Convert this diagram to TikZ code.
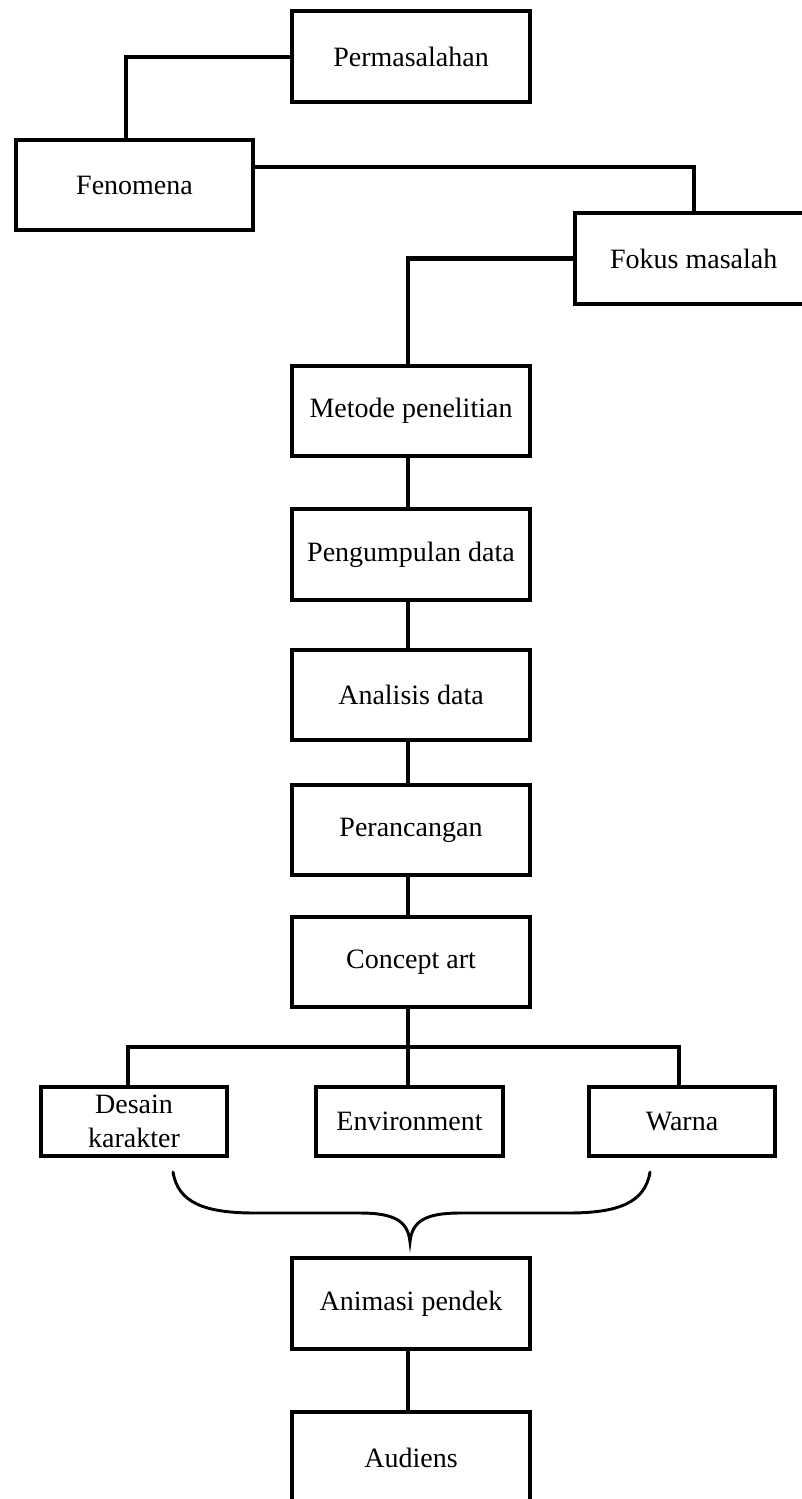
\documentclass[tikz,border=0pt]{standalone}
\usepackage{fontspec}
\setmainfont{Liberation Serif}
\begin{document}
\begin{tikzpicture}[x=0.75pt,y=-0.75pt,
  box/.style={draw, line width=3pt, minimum width=178pt, minimum height=68pt, inner sep=0pt, align=center, font=\fontsize{21}{25}\selectfont},
  sbox/.style={box, minimum width=140pt, minimum height=52pt},
  link/.style={line width=3.3pt},
  bracepath/.style={line width=2.2pt, line cap=round}]
\clip (0,0) rectangle (802,1499);
\fill[white] (0,0) rectangle (802,1499);
% nodes
\node[box] (perm)    at (411,56.7)   {Permasalahan};
\node[box] (fen)     at (134.5,185)  {Fenomena};
\node[box] (fokus)   at (693.75,258.5) {Fokus masalah};
\node[box] (metode)  at (411,411)    {Metode penelitian};
\node[box] (peng)    at (411,554.5)  {Pengumpulan data};
\node[box] (anal)    at (411,695)    {Analisis data};
\node[box] (peran)   at (411,830)    {Perancangan};
\node[box] (concept) at (411,962)    {Concept art};
\node[sbox] (desain) at (134,1121.5) {Desain\\karakter};
\node[sbox] (env)    at (409.5,1121.5) {Environment};
\node[sbox] (warna)  at (682,1121.5) {Warna};
\node[box] (animasi) at (411,1303.5) {Animasi pendek};
\node[box] (audiens) at (411,1457.5) {Audiens};
% helper coordinates
\coordinate (trunk) at (408,0);
\coordinate (c1) at (126,0);
\coordinate (c2) at (0,167);
\coordinate (bar) at (408,1047);
\coordinate (dl) at (128,0);
\coordinate (dr) at (679,0);
% connectors
\draw[link] (perm.west) -| (fen.north -| c1);
\draw[link] (fen.east |- c2) -| (fokus.north);
\draw[link] (fokus.west) -| (metode.north -| trunk);
\draw[link] (metode.south -| trunk) -- (peng.north -| trunk);
\draw[link] (peng.south -| trunk) -- (anal.north -| trunk);
\draw[link] (anal.south -| trunk) -- (peran.north -| trunk);
\draw[link] (peran.south -| trunk) -- (concept.north -| trunk);
\draw[link] (concept.south -| trunk) -- (bar);
\draw[link] (desain.north -| dl) |- (bar) -| (warna.north -| dr);
\draw[link] (bar) -- (env.north -| trunk);
\draw[link] (animasi.south -| trunk) -- (audiens.north -| trunk);
% brace
\draw[bracepath] (173,1172) .. controls (178,1203) and (205,1213) .. (255,1213)
  -- (360,1213) .. controls (396,1213) and (408,1222) .. (410,1242)
  .. controls (412,1222) and (424,1213) .. (460,1213)
  -- (568,1213) .. controls (618,1213) and (645,1203) .. (650,1172);
\end{tikzpicture}
\end{document}
